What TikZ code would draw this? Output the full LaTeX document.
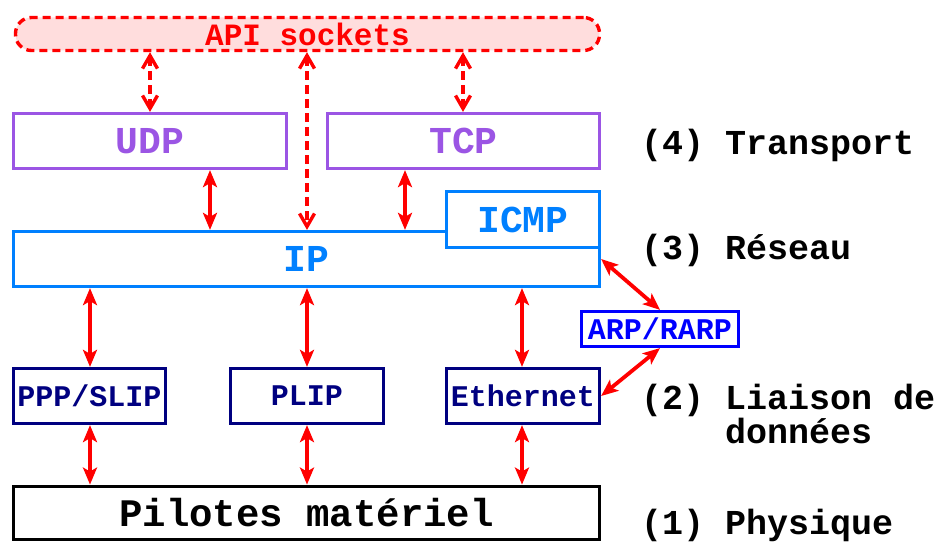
\documentclass[tikz,border=0pt]{standalone}
\usepackage{fontspec}
\setmainfont{Liberation Mono}
\usetikzlibrary{arrows.meta}

\definecolor{transportcol}{RGB}{155,85,228}
\definecolor{netcol}{RGB}{0,128,255}
\definecolor{linkcol}{RGB}{0,0,128}
\definecolor{arpcol}{RGB}{0,0,255}
\definecolor{apifill}{RGB}{255,221,221}

\begin{document}
\begin{tikzpicture}[x=1pt,y=-1pt,
  layerbox/.style={draw, line width=3.2pt, fill=white, inner sep=0pt, font=\bfseries},
  bigtext/.style={font=\fontsize{38}{40}\selectfont\bfseries},
  smalltext/.style={font=\fontsize{30}{32}\selectfont\bfseries},
  layerlabel/.style={anchor=base west, inner sep=0pt, align=left,
    font=\fontsize{35}{34}\selectfont\bfseries},
  link/.style={red, line width=3.8pt,
    {Stealth[length=17pt,width=14pt,inset=4pt]}-{Stealth[length=17pt,width=14pt,inset=4pt]}},
  apilink/.style={red, line width=3.4pt, dash pattern=on 9pt off 5pt,
    {Straight Barb[length=13pt,width=15pt]}-{Straight Barb[length=13pt,width=15pt]}}
]
\useasboundingbox (0,0) rectangle (940,543);

% socket interface
\node[draw=red, fill=apifill, line width=3.4pt, dash pattern=on 8pt off 5pt,
      rounded corners=16pt, minimum width=584pt, minimum height=33pt, inner sep=0pt,
      text=red, font=\fontsize{31}{33}\selectfont\bfseries]
  (api) at (307.5,34) {API sockets};

% transport layer
\node[layerbox, bigtext, draw=transportcol, text=transportcol,
      minimum width=273pt, minimum height=55pt] (udp) at (150,141) {UDP};
\node[layerbox, bigtext, draw=transportcol, text=transportcol,
      minimum width=272pt, minimum height=55pt] (tcp) at (463.5,141) {TCP};

% network layer
\node[layerbox, bigtext, draw=netcol, text=netcol,
      minimum width=586pt, minimum height=55pt] (ip) at (306.5,259) {IP};
\node[layerbox, bigtext, draw=netcol, text=netcol,
      minimum width=153pt, minimum height=56pt] (icmp) at (523,219.5) {ICMP};

% address resolution
\node[layerbox, smalltext, draw=arpcol, text=arpcol,
      minimum width=157pt, minimum height=35pt] (arp) at (660,329) {ARP/RARP};

% link layer
\node[layerbox, smalltext, draw=linkcol, text=linkcol,
      minimum width=152pt, minimum height=55pt] (ppp) at (89.5,396) {PPP/SLIP};
\node[layerbox, smalltext, draw=linkcol, text=linkcol,
      minimum width=153pt, minimum height=55pt] (plip) at (307,396) {PLIP};
\node[layerbox, smalltext, draw=linkcol, text=linkcol,
      minimum width=153pt, minimum height=55pt] (eth) at (523,396) {Ethernet};

% physical layer
\node[layerbox, draw=black, line width=3.8pt,
      font=\fontsize{39}{41}\selectfont\bfseries,
      minimum width=586pt, minimum height=53pt] (pil) at (306.5,513) {Pilotes matériel};

% arrow columns
\coordinate (xa) at (150,0);
\coordinate (xb) at (307,0);
\coordinate (xc) at (463,0);
\coordinate (xd) at (210,0);
\coordinate (xe) at (405,0);
\coordinate (xf) at (90,0);
\coordinate (xg) at (522,0);

% socket calls
\draw[apilink] (api.south -| xa) -- (udp.north -| xa);
\draw[apilink] (api.south -| xb) -- (ip.north -| xb);
\draw[apilink] (api.south -| xc) -- (tcp.north -| xc);

% transport <-> network
\draw[link] (udp.south -| xd) -- (ip.north -| xd);
\draw[link] (tcp.south -| xe) -- (ip.north -| xe);

% network <-> link
\draw[link] (ip.south -| xf) -- (ppp.north -| xf);
\draw[link] (ip.south -| xb) -- (plip.north -| xb);
\draw[link] (ip.south -| xg) -- (eth.north -| xg);

% link <-> drivers
\draw[link] (ppp.south -| xf) -- (pil.north -| xf);
\draw[link] (plip.south -| xb) -- (pil.north -| xb);
\draw[link] (eth.south -| xg) -- (pil.north -| xg);

% ARP/RARP
\draw[link] (ip.east) -- (arp.north);
\draw[link] (arp.south) -- (eth.east);

% layer names
\node[layerlabel] (l4) at (641,154) {(4) Transport};
\node[layerlabel] (l3) at (641,259) {(3) Réseau};
\node[layerlabel] (l2) at (641,443) {(2) Liaison de\\\hphantom{(2)~}données};
\node[layerlabel] (l1) at (641,534) {(1) Physique};
\end{tikzpicture}
\end{document}
